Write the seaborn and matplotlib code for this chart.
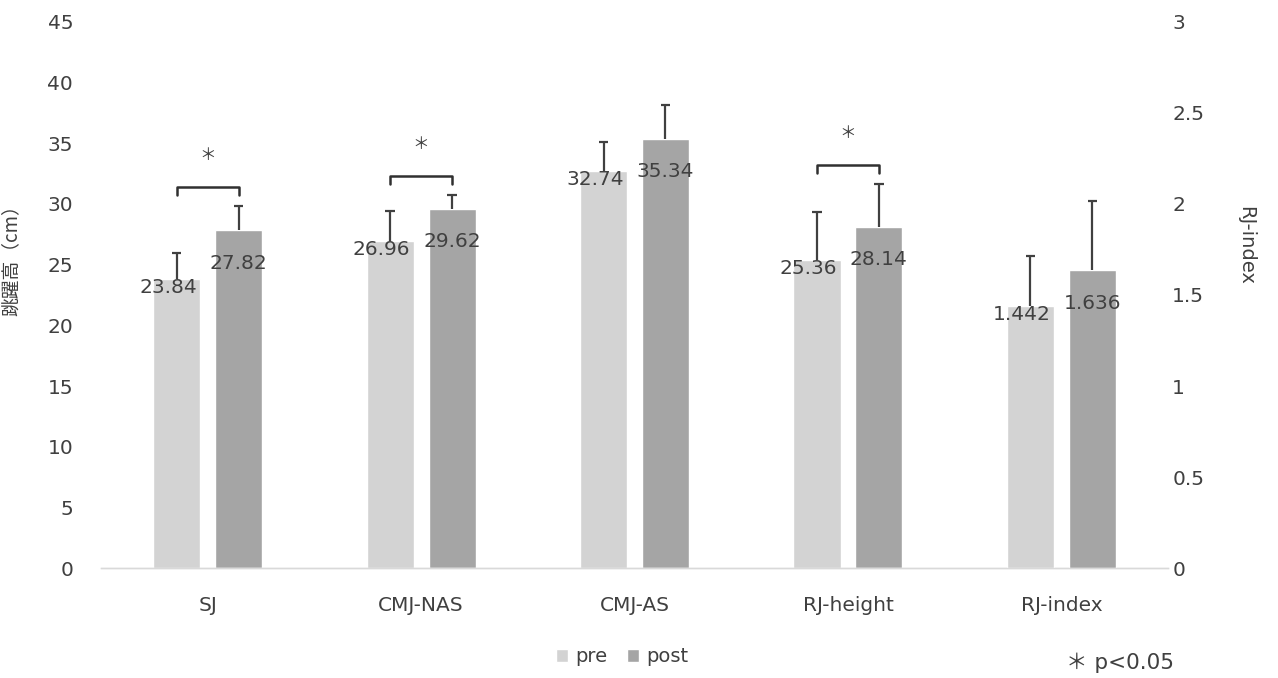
import numpy as np
import pandas as pd
import matplotlib
matplotlib.use("Agg")
import matplotlib.pyplot as plt
from matplotlib.patches import Patch
from matplotlib.ticker import FuncFormatter
import seaborn as sns

sns.set_theme(style="white")
plt.rcParams['font.family'] = ['DejaVu Sans', 'Noto Sans CJK JP']

# data
tests = ['SJ', 'CMJ-NAS', 'CMJ-AS', 'RJ-height', 'RJ-index']
pre_mean = [23.84, 26.96, 32.74, 25.36, 1.442]
post_mean = [27.82, 29.62, 35.34, 28.14, 1.636]
pre_sd = [2.1, 2.5, 2.4, 4.0, 0.27]
post_sd = [2.0, 1.1, 2.8, 3.5, 0.38]
significant = ['SJ', 'CMJ-NAS', 'RJ-height']
left_ticks = list(range(0, 50, 5))
right_ticks = [0, 0.5, 1, 1.5, 2, 2.5, 3]

PRE_COL = '#d3d3d3'
POST_COL = '#a5a5a5'
TXT = '#404040'
FS = 14.5

df = pd.DataFrame({
    'test': tests * 2,
    'phase': ['pre'] * 5 + ['post'] * 5,
    'mean': pre_mean + post_mean,
    'sd': pre_sd + post_sd,
})
df_left = df[df['test'] != 'RJ-index']
df_right = df[df['test'] == 'RJ-index']

fig = plt.figure(figsize=(12.78, 6.78), dpi=100)
ax = fig.add_axes([0.079, 0.1622, 0.835, 0.8054])
ax2 = ax.twinx()

palette = {'pre': PRE_COL, 'post': POST_COL}
sns.barplot(data=df_left, x='test', y='mean', hue='phase', order=tests,
            hue_order=['pre', 'post'], palette=palette, width=0.58, gap=0.24,
            errorbar=None, legend=False, ax=ax, saturation=1)
sns.barplot(data=df_right, x='test', y='mean', hue='phase', order=tests,
            hue_order=['pre', 'post'], palette=palette, width=0.58, gap=0.24,
            errorbar=None, legend=False, ax=ax2, saturation=1)

ax.set_ylim(0, 45)
ax2.set_ylim(0, 3)
ax.set_xlim(-0.5, 4.5)
ax2.set_xlim(-0.5, 4.5)

# error bars (upper only) and value labels
tops = {}
for axis, sub in [(ax, df_left), (ax2, df_right)]:
    scale = 1.0 if axis is ax else 15.0
    for cont, phase in zip(axis.containers, ['pre', 'post']):
        rows = sub[sub['phase'] == phase].set_index('test')
        for bar in cont:
            h = bar.get_height()
            if np.isnan(h) or h == 0:
                continue
            xc = bar.get_x() + bar.get_width() / 2
            t = tests[int(round(xc))]
            sd = rows.loc[t, 'sd']
            axis.vlines(xc, h, h + sd, color=TXT, lw=1.6, zorder=3)
            axis.hlines(h + sd, xc - 0.022, xc + 0.022, color=TXT, lw=1.6, zorder=3)
            tops.setdefault(t, {})[phase] = (xc, (h + sd) * scale)
            lbl = f'{h:g}' if axis is ax else f'{h:.3f}'
            if phase == 'pre':
                ty, tx = h - 0.7 / scale, xc - 0.04
            else:
                ty, tx = h - 2.7 / scale, xc
            axis.text(tx, ty, lbl, ha='center', va='center', fontsize=FS,
                      color=TXT, zorder=4)

# significance brackets
for t in significant:
    (x1, y1), (x2, y2) = tops[t]['pre'], tops[t]['post']
    yb = max(y1, y2) + 1.6
    ax.plot([x1, x1, x2, x2], [yb - 0.7, yb, yb, yb - 0.7], color='#303030',
            lw=1.8, solid_joinstyle='round', zorder=5)
    ax.text((x1 + x2) / 2, yb + 2.6, '＊', ha='center', va='center',
            fontsize=12, color=TXT, family='Noto Sans CJK JP')

ax.set_yticks(left_ticks)
ax2.set_yticks(right_ticks)
ax2.yaxis.set_major_formatter(FuncFormatter(lambda v, p: f'{v:g}'))
ax.tick_params(axis='y', length=0, pad=20, labelsize=FS, labelcolor=TXT)
ax2.tick_params(axis='y', length=0, pad=3, labelsize=FS, labelcolor=TXT)
ax.tick_params(axis='x', length=0, pad=20, labelsize=FS, labelcolor=TXT)
ax2.tick_params(axis='x', length=0)
ax.set_xlabel('')
ax2.set_xlabel('')

ax.set_ylabel('跳躍高（cm）', fontsize=13.5, color=TXT,
              family=['Noto Sans CJK JP', 'DejaVu Sans'])
ax.yaxis.set_label_coords(-0.074, 0.573)
ax2.set_ylabel('RJ-index', fontsize=14, color=TXT, rotation=270)
ax2.yaxis.set_label_coords(1.0815, 0.59)

for a in (ax, ax2):
    for s in ['top', 'left', 'right']:
        a.spines[s].set_visible(False)
    a.spines['bottom'].set_color('#d9d9d9')
    a.spines['bottom'].set_linewidth(1.0)
    a.grid(False)

handles = [Patch(facecolor=PRE_COL, label='pre'), Patch(facecolor=POST_COL, label='post')]
fig.legend(handles=handles, loc='center', bbox_to_anchor=(0.487, 0.031), ncol=2,
           frameon=False, fontsize=14, handlelength=0.6, handleheight=0.6,
           handletextpad=0.4, columnspacing=1.0, labelcolor=TXT)
fig.text(0.876, 0.022, '＊ p<0.05', ha='center', va='center', fontsize=15.5,
         color=TXT, family=['DejaVu Sans', 'Noto Sans CJK JP'])

fig.savefig('out.png', dpi=100)
